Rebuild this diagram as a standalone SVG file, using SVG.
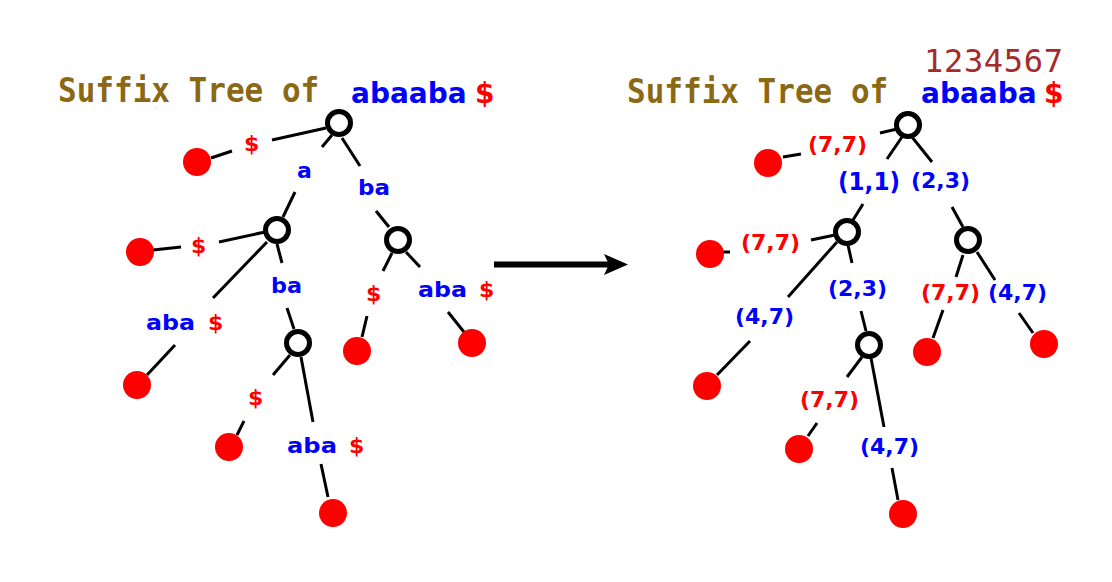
<svg xmlns="http://www.w3.org/2000/svg" width="1112" height="582" viewBox="0 0 1112 582">
<style>
.title{font-family:"DejaVu Sans Mono",monospace;font-weight:bold;font-size:31px;fill:#8b6914}
.word{font-family:"DejaVu Sans",sans-serif;font-weight:bold;font-size:28px}
.lbl{font-family:"DejaVu Sans",sans-serif;font-weight:bold;font-size:22px}
.b{fill:#0000ff}
.r{fill:#ff0000}
.num{font-family:"DejaVu Sans Mono",monospace;font-size:32px;fill:#a52a2a}
.edge line{stroke:#000;stroke-width:3}
.inner{fill:#fff;stroke:#000;stroke-width:5}
.leaf{fill:#ff0000}
</style>
<rect width="1112" height="582" fill="#fff"/>

<g id="title-left">
<text class="title" transform="translate(58,102) scale(1,1.1)" x="0" y="0">Suffix Tree of</text>
<text class="word b" x="351" y="103">abaaba</text>
<text class="word r" x="475" y="103">$</text>
</g>
<g id="title-right">
<text class="num" x="924" y="72" textLength="139">1234567</text>
<text class="title" transform="translate(627,103) scale(1,1.1)" x="0" y="0">Suffix Tree of</text>
<text class="word b" x="921" y="103">abaaba</text>
<text class="word r" x="1044" y="103">$</text>
</g>

<g id="connectors" class="edge">
<line x1="211" y1="158" x2="232" y2="151"/>
<line x1="272" y1="140" x2="326" y2="128"/>
<line x1="322" y1="147" x2="332" y2="135"/>
<line x1="295" y1="192" x2="283" y2="217"/>
<line x1="342" y1="138" x2="360" y2="166"/>
<line x1="376" y1="211" x2="389" y2="227"/>
<line x1="153" y1="250" x2="181" y2="247"/>
<line x1="219" y1="242" x2="265" y2="232"/>
<line x1="267" y1="242" x2="213" y2="298"/>
<line x1="175" y1="345" x2="147" y2="375"/>
<line x1="277" y1="244" x2="282" y2="263"/>
<line x1="287" y1="308" x2="294" y2="329"/>
<line x1="290" y1="355" x2="273" y2="375"/>
<line x1="244" y1="421" x2="237" y2="435"/>
<line x1="301" y1="357" x2="313" y2="422"/>
<line x1="321" y1="464" x2="328" y2="497"/>
<line x1="392" y1="253" x2="383" y2="271"/>
<line x1="367" y1="316" x2="362" y2="337"/>
<line x1="406" y1="252" x2="420" y2="267"/>
<line x1="448" y1="312" x2="464" y2="332"/>

<line x1="783" y1="157" x2="801" y2="154"/>
<line x1="880" y1="133" x2="897" y2="129"/>
<line x1="902" y1="137" x2="887" y2="159"/>
<line x1="863" y1="204" x2="853" y2="220"/>
<line x1="912" y1="137" x2="932" y2="162"/>
<line x1="952" y1="207" x2="963" y2="227"/>
<line x1="723" y1="252" x2="730" y2="252"/>
<line x1="811" y1="240" x2="835" y2="235"/>
<line x1="837" y1="242" x2="788" y2="297"/>
<line x1="750" y1="341" x2="717" y2="375"/>
<line x1="848" y1="245" x2="852" y2="263"/>
<line x1="861" y1="311" x2="866" y2="331"/>
<line x1="862" y1="357" x2="847" y2="377"/>
<line x1="817" y1="423" x2="808" y2="436"/>
<line x1="871" y1="358" x2="884" y2="427"/>
<line x1="892" y1="468" x2="898" y2="500"/>
<line x1="963" y1="255" x2="956" y2="277"/>
<line x1="943" y1="310" x2="933" y2="338"/>
<line x1="977" y1="252" x2="995" y2="280"/>
<line x1="1019" y1="313" x2="1033" y2="333"/>
</g>

<g id="arrow">
<line x1="494" y1="264.5" x2="610" y2="264.5" stroke="#000" stroke-width="6"/>
<polygon points="604,254 628,264.5 604,275 609,264.5" fill="#000"/>
</g>

<g id="left-labels">
<text class="lbl r" x="244" y="151">$</text>
<text class="lbl b" x="297" y="178">a</text>
<text class="lbl b" x="358" y="195" textLength="32" lengthAdjust="spacingAndGlyphs">ba</text>
<text class="lbl r" x="191" y="253">$</text>
<text class="lbl b" x="146" y="330" textLength="49" lengthAdjust="spacingAndGlyphs">aba</text>
<text class="lbl r" x="208" y="330">$</text>
<text class="lbl b" x="271" y="293" textLength="31" lengthAdjust="spacingAndGlyphs">ba</text>
<text class="lbl r" x="248" y="405">$</text>
<text class="lbl b" x="287" y="453" textLength="50" lengthAdjust="spacingAndGlyphs">aba</text>
<text class="lbl r" x="349" y="453">$</text>
<text class="lbl r" x="366" y="301">$</text>
<text class="lbl b" x="418" y="297" textLength="49" lengthAdjust="spacingAndGlyphs">aba</text>
<text class="lbl r" x="479" y="297">$</text>
</g>

<g id="right-labels">
<text class="lbl r" x="808" y="152">(7,7)</text>
<text class="lbl b" x="838" y="190" style="font-size:25px" textLength="62" lengthAdjust="spacingAndGlyphs">(1,1)</text>
<text class="lbl b" x="911" y="188">(2,3)</text>
<text class="lbl r" x="741" y="250">(7,7)</text>
<text class="lbl b" x="735" y="324">(4,7)</text>
<text class="lbl b" x="828" y="296">(2,3)</text>
<text class="lbl r" x="800" y="407">(7,7)</text>
<text class="lbl b" x="860" y="454">(4,7)</text>
<text class="lbl r" x="921" y="300">(7,7)</text>
<text class="lbl b" x="988" y="300">(4,7)</text>
</g>

<g id="L-root"><circle class="inner" cx="339" cy="123" r="11.5"/></g>
<g id="L-n2"><circle class="inner" cx="277" cy="230" r="11.5"/></g>
<g id="L-n3"><circle class="inner" cx="398" cy="240" r="11.5"/></g>
<g id="L-n4"><circle class="inner" cx="298" cy="343" r="11.5"/></g>
<g id="L-leaf1"><circle class="leaf" cx="197" cy="162" r="14"/></g>
<g id="L-leaf2"><circle class="leaf" cx="140" cy="252" r="14"/></g>
<g id="L-leaf3"><circle class="leaf" cx="137" cy="385" r="14"/></g>
<g id="L-leaf4"><circle class="leaf" cx="229" cy="447" r="14"/></g>
<g id="L-leaf5"><circle class="leaf" cx="333" cy="513" r="14"/></g>
<g id="L-leaf6"><circle class="leaf" cx="357" cy="351" r="14"/></g>
<g id="L-leaf7"><circle class="leaf" cx="472" cy="343" r="14"/></g>

<g id="R-root"><circle class="inner" cx="908" cy="125" r="11.5"/></g>
<g id="R-n2"><circle class="inner" cx="847" cy="232" r="11.5"/></g>
<g id="R-n3"><circle class="inner" cx="968" cy="240" r="11.5"/></g>
<g id="R-n4"><circle class="inner" cx="869" cy="345" r="11.5"/></g>
<g id="R-leaf1"><circle class="leaf" cx="768" cy="163" r="14"/></g>
<g id="R-leaf2"><circle class="leaf" cx="710" cy="254" r="14"/></g>
<g id="R-leaf3"><circle class="leaf" cx="707" cy="386" r="14"/></g>
<g id="R-leaf4"><circle class="leaf" cx="799" cy="449" r="14"/></g>
<g id="R-leaf5"><circle class="leaf" cx="903" cy="514" r="14"/></g>
<g id="R-leaf6"><circle class="leaf" cx="927" cy="352" r="14"/></g>
<g id="R-leaf7"><circle class="leaf" cx="1044" cy="344" r="14"/></g>
</svg>
